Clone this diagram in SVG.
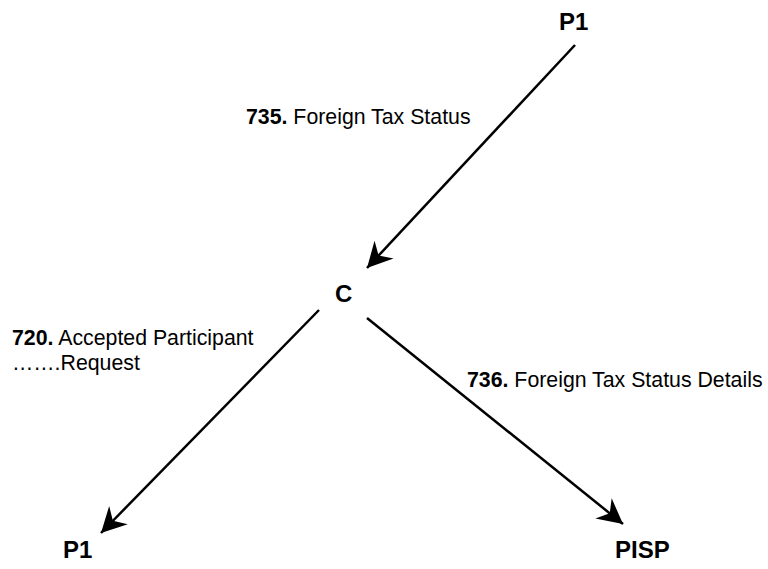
<svg xmlns="http://www.w3.org/2000/svg" width="768" height="569" viewBox="0 0 768 569">
  <style>
    .node { font-family: "Liberation Sans", Arial, sans-serif; font-size: 24px; font-weight: bold; fill: #000; }
    .lbl { font-family: "Liberation Sans", Arial, sans-serif; font-size: 21.3px; fill: #000; }
    .num { font-weight: bold; }
    .edge { stroke: #000; stroke-width: 2.5; fill: none; marker-end: url(#arrow); }
  </style>
  <defs>
    <marker id="arrow" markerUnits="userSpaceOnUse" viewBox="-26 -14 28 28" refX="0" refY="0" markerWidth="28" markerHeight="28" orient="auto">
      <path d="M0,0 L-25,-13 L-17,0 L-25,13 Z" fill="#000"/>
    </marker>
  </defs>
  <rect width="768" height="569" fill="#fff"/>

  <g id="connectors">
    <line class="edge" x1="575" y1="45" x2="367" y2="268"/>
    <line class="edge" x1="319" y1="310" x2="101" y2="533"/>
    <line class="edge" x1="367" y1="318" x2="623" y2="524"/>
  </g>

  <g id="node-p1-top"><text class="node" x="559" y="30">P1</text></g>
  <g id="node-c"><text class="node" x="335" y="302">C</text></g>
  <g id="node-p1-bottom"><text class="node" x="63" y="558">P1</text></g>
  <g id="node-pisp"><text class="node" x="615" y="558">PISP</text></g>

  <g id="labels">
    <text class="lbl" x="246" y="124"><tspan class="num">735.</tspan> Foreign Tax Status</text>
    <text class="lbl" x="12" y="345"><tspan class="num">720.</tspan> Accepted Participant</text>
    <text class="lbl" x="12" y="370">…….Request</text>
    <text class="lbl" x="467" y="387"><tspan class="num">736.</tspan> Foreign Tax Status Details</text>
  </g>
</svg>
